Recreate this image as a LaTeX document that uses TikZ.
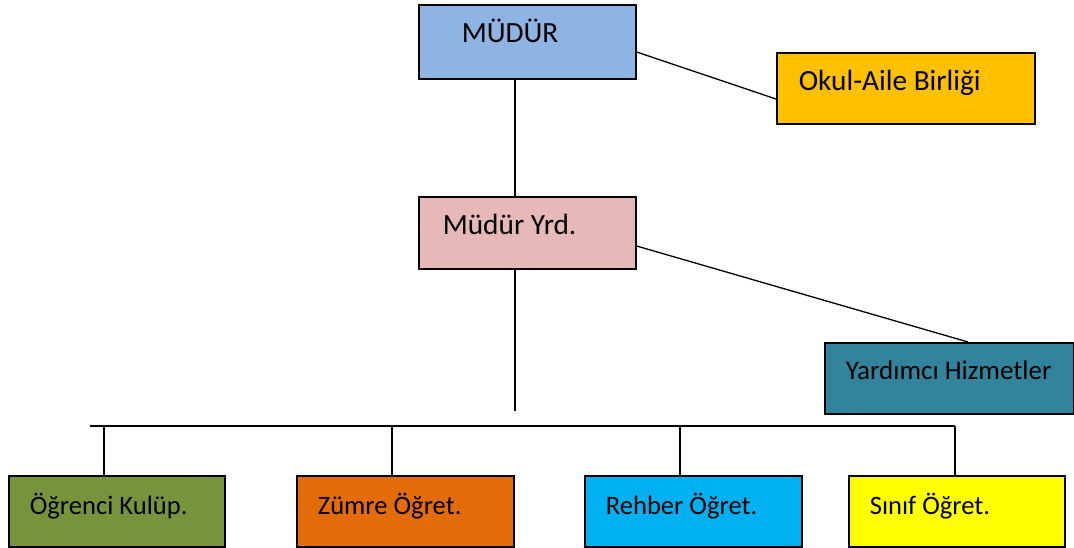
\documentclass[tikz,border=0pt]{standalone}
\usepackage{fontspec}
\setmainfont{Carlito}
\usetikzlibrary{calc}
\definecolor{cMudur}{HTML}{8EB4E3}
\definecolor{cOkul}{HTML}{FFC000}
\definecolor{cYrd}{HTML}{E6B9B8}
\definecolor{cYard}{HTML}{31849B}
\definecolor{cOgr}{HTML}{77933C}
\definecolor{cZum}{HTML}{E36C09}
\definecolor{cReh}{HTML}{00B0F0}
\definecolor{cSin}{HTML}{FFFF00}
\newcommand{\bxtext}[3]{\makebox[#1][l]{\hspace*{#2}#3}}
\begin{document}
\begin{tikzpicture}[x=1pt,y=-1pt,
  box/.style={draw=black, line width=1.6pt, anchor=north west, inner xsep=0pt, inner ysep=0pt,
    text height=38pt, text depth=33pt},
  big/.style={font=\fontsize{29.3}{34}\selectfont},
  small/.style={font=\fontsize{26.6}{31}\selectfont},
  conn/.style={draw=black, line width=1.3pt}
]
\useasboundingbox (0,0) rectangle (1074,548);
\fill[white] (0,0) rectangle (1074,548);

\node[box, big, fill=cMudur, text depth=36pt] (mudur) at (418,4) {\bxtext{217pt}{43pt}{MÜDÜR}};
\node[box, big, fill=cOkul, text depth=33pt] (okul) at (776,52) {\bxtext{258pt}{22pt}{Okul-Aile Birliği}};
\node[box, big, fill=cYrd, text depth=34pt] (yrd) at (418,196) {\bxtext{217pt}{24pt}{Müdür Yrd.}};
\node[box, font=\fontsize{27}{31}\selectfont, fill=cYard, text height=37pt, text depth=34pt] (yard) at (824,342) {\bxtext{249pt}{21pt}{Yardımcı Hizmetler}};

\node[box, small, fill=cOgr, text height=38.5pt, text depth=32.5pt] (ogr) at (8,475) {\bxtext{216pt}{21pt}{Öğrenci Kulüp.}};
\node[box, small, fill=cZum, text height=38.5pt, text depth=32.5pt] (zum) at (296,475) {\bxtext{217pt}{21pt}{Zümre Öğret.}};
\node[box, small, fill=cReh, text height=38.5pt, text depth=32.5pt] (reh) at (584,475) {\bxtext{217pt}{21pt}{Rehber Öğret.}};
\node[box, small, fill=cSin, text height=38.5pt, text depth=32.5pt] (sin) at (848,475) {\bxtext{216pt}{21pt}{Sınıf Öğret.}};

\coordinate (v) at (515,0);
\coordinate (vend) at (515,411);
\draw[conn] (v |- mudur.south) -- (v |- yrd.north);
\draw[conn] (v |- yrd.south) -- (vend);

\draw[conn] ($(mudur.north east)+(0,48)$) -- ($(okul.north west)+(0,47)$);
\draw[conn] ($(yrd.north east)+(0,50)$) -- ($(yard.north west)+(144,0)$);

\coordinate (busL) at (90,426);
\coordinate (busR) at (955,426);
\draw[conn] (busL) -- (busR);
\coordinate (d1) at (104,426);
\coordinate (d2) at (392,426);
\coordinate (d3) at (680,426);
\draw[conn] (d1) -- (d1 |- ogr.north);
\draw[conn] (d2) -- (d2 |- zum.north);
\draw[conn] (d3) -- (d3 |- reh.north);
\draw[conn] (busR) -- (busR |- sin.north);
\end{tikzpicture}
\end{document}
